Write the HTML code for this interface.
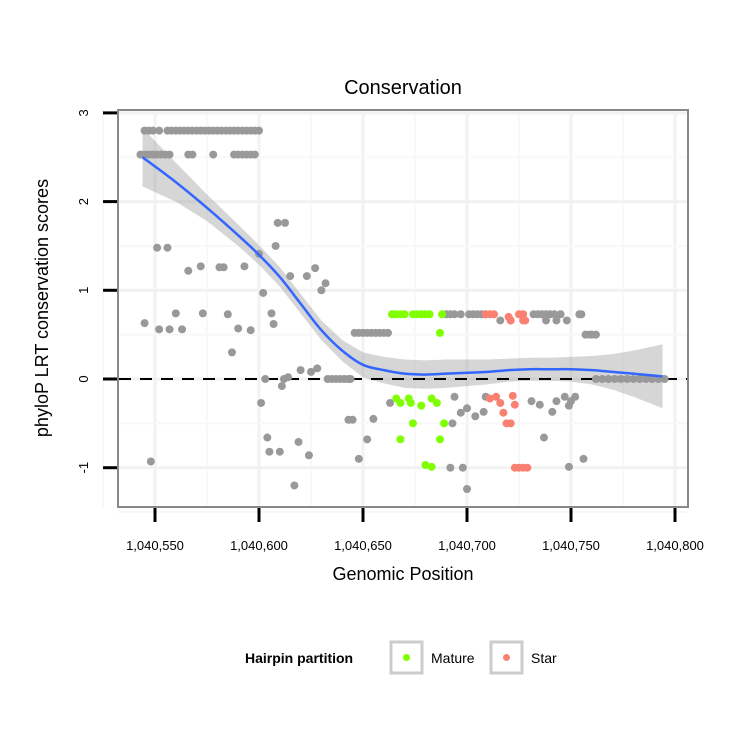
<!DOCTYPE html>
<html><head><meta charset="utf-8"><style>
body{margin:0;background:#fff}
svg{display:block;font-family:"Liberation Sans",sans-serif}
</style></head><body>
<svg id="chart" width="750" height="750" xmlns="http://www.w3.org/2000/svg">
<rect width="750" height="750" fill="#fff"/>
<text x="403" y="94" font-size="20" text-anchor="middle">Conservation</text>
<g id="grid"></g>
<g id="band"></g>
<line x1="119" x2="687" y1="379" y2="379" stroke="#000" stroke-width="2" stroke-dasharray="12,9"/>
<g id="points"></g>
<g id="smooth"></g>
<rect x="118" y="110" width="570" height="397" fill="none" stroke="#888" stroke-width="2"/>
<g id="axes"></g>
<text x="403" y="580" font-size="18" text-anchor="middle">Genomic Position</text>
<text transform="translate(48,308) rotate(-90)" font-size="18" text-anchor="middle">phyloP LRT conservation scores</text>
<g>
<text x="245" y="663" font-size="14" font-weight="bold">Hairpin partition</text>
<g>
<rect x="391" y="642" width="31" height="31" fill="#fff" stroke="#ccc" stroke-width="3"/>
<circle cx="406.5" cy="657.5" r="3.5" fill="#7fff00"/>
<text x="431" y="663" font-size="14">Mature</text></g>
<g>
<rect x="491" y="642" width="31" height="31" fill="#fff" stroke="#ccc" stroke-width="3"/>
<circle cx="506.5" cy="657.5" r="3.5" fill="#fa8072"/>
<text x="531" y="663" font-size="14">Star</text></g>
</g>
</svg>
<script>
const xTicks=[1040550,1040600,1040650,1040700,1040750,1040800];
const xTickLabels=["1,040,550","1,040,600","1,040,650","1,040,700","1,040,750","1,040,800"];
const yTicks=[-1,0,1,2,3];
const yTickLabels=["-1","0","1","2","3"];
const B=1040000;
const grayX=[545,547,549,552,556,558,560,562,564,566,568,570,572,574,576,578,580,582,584,586,588,590,592,594,596,598,600,
543,545,547,549,551,553,555,557,566,568,578,588,590,592,594,596,598,
545,551,556,566,572,560,573,552,557,563,585,581,583,593,600,609,612.5,608,602,606,607,590,596,587,615,623,627,632,630,548,603,601,604,605,610,619,624,617,611,612,614,620,628,625,
633,635,637,639,641,643,644,646,648,650,652,654,656,658,660,662,664,690,692,694,697,701,703,705,707,709,732,734,736,738,740,742,745,754,755,716,738,743,748,757,759,760,762,
762,765,768,771,774,777,780,783,786,789,792,795,
663,694,697,700,704,708,709,731,735,741,743,747,749,750,752,737,749,756,643,645,655,652,648,693,692,698,700];
const grayY=[2.8,2.8,2.8,2.8,2.8,2.8,2.8,2.8,2.8,2.8,2.8,2.8,2.8,2.8,2.8,2.8,2.8,2.8,2.8,2.8,2.8,2.8,2.8,2.8,2.8,2.8,2.8,
2.53,2.53,2.53,2.53,2.53,2.53,2.53,2.53,2.53,2.53,2.53,2.53,2.53,2.53,2.53,2.53,2.53,
0.63,1.48,1.48,1.22,1.27,0.74,0.74,0.56,0.56,0.56,0.73,1.26,1.26,1.27,1.41,1.76,1.76,1.5,0.97,0.74,0.62,0.57,0.55,0.3,1.16,1.16,1.25,1.08,1.0,-0.93,0.0,-0.27,-0.66,-0.82,-0.82,-0.71,-0.86,-1.2,-0.08,0.0,0.02,0.1,0.12,0.08,
0,0,0,0,0,0,0,0.52,0.52,0.52,0.52,0.52,0.52,0.52,0.52,0.52,0.73,0.73,0.73,0.73,0.73,0.73,0.73,0.73,0.73,0.73,0.73,0.73,0.73,0.73,0.73,0.73,0.73,0.73,0.73,0.66,0.66,0.66,0.66,0.5,0.5,0.5,0.5,
0,0,0,0,0,0,0,0,0,0,0,0,
-0.27,-0.2,-0.38,-0.33,-0.42,-0.37,-0.2,-0.25,-0.29,-0.37,-0.25,-0.2,-0.3,-0.25,-0.2,-0.66,-0.99,-0.9,-0.46,-0.46,-0.45,-0.68,-0.9,-0.5,-1.0,-1.0,-1.24];
const matureX=[664,666,668,670,674,676,678,680,682,688,687,666,672,683,685.5,668,673,678,674,689,668,687,680,683];
const matureY=[0.73,0.73,0.73,0.73,0.73,0.73,0.73,0.73,0.73,0.73,0.52,-0.22,-0.22,-0.22,-0.27,-0.27,-0.27,-0.3,-0.5,-0.5,-0.68,-0.68,-0.97,-0.99];
const starX=[709,711,713,720,721,725,727,728,721,727,711,714,716,717.5,722,723,719,721,723,725,727,729];
const starY=[0.73,0.73,0.73,0.7,0.66,0.73,0.73,0.66,0.66,0.66,-0.22,-0.2,-0.27,-0.38,-0.19,-0.29,-0.5,-0.5,-1.0,-1.0,-1.0,-1.0];
const smoothX=[544,560,575,590,600,610,620,630,640,650,660,670,680,690,700,710,720,730,740,750,760,770,780,794];
const smoothY=[2.5,2.22,1.93,1.62,1.4,1.15,0.85,0.55,0.32,0.16,0.1,0.06,0.05,0.06,0.07,0.08,0.1,0.11,0.11,0.11,0.1,0.08,0.06,0.03];
const smoothSE=[0.33,0.22,0.15,0.12,0.11,0.11,0.11,0.11,0.12,0.14,0.15,0.16,0.16,0.16,0.15,0.14,0.13,0.13,0.13,0.14,0.16,0.2,0.26,0.36];

const NS='http://www.w3.org/2000/svg';
const sx=v=>155+(v-1040550)*2.08;
const sy=v=>379-v*88.7;
function mk(tag,attrs,parent){const e=document.createElementNS(NS,tag);for(const k in attrs)e.setAttribute(k,attrs[k]);parent.appendChild(e);return e;}
function spline(p){let d='M'+p[0][0]+','+p[0][1];for(let i=0;i<p.length-1;i++){const p0=p[i-1]||p[i],p1=p[i],p2=p[i+1],p3=p[i+2]||p2;
 d+=' C'+(p1[0]+(p2[0]-p0[0])/6)+','+(p1[1]+(p2[1]-p0[1])/6)+' '+(p2[0]-(p3[0]-p1[0])/6)+','+(p2[1]-(p3[1]-p1[1])/6)+' '+p2[0]+','+p2[1];}return d;}
const grid=document.getElementById('grid');
for(let i=0;i<xTicks.length;i++){
  let l=mk('line',{x1:sx(xTicks[i]),x2:sx(xTicks[i]),y1:110,y2:507,stroke:'#f2f2f2','stroke-width':3},grid);
  
  
  let m=mk('line',{x1:sx(xTicks[i]-25),x2:sx(xTicks[i]-25),y1:110,y2:507,stroke:'#f8f8f8','stroke-width':2},grid);
  
  
}
for(let i=0;i<yTicks.length;i++){
  let l=mk('line',{x1:118,x2:688,y1:sy(yTicks[i]),y2:sy(yTicks[i]),stroke:'#f2f2f2','stroke-width':3},grid);
  
  
  let m=mk('line',{x1:118,x2:688,y1:sy(yTicks[i]-0.5),y2:sy(yTicks[i]-0.5),stroke:'#f8f8f8','stroke-width':2},grid);
  
  
}
const axes=document.getElementById('axes');
for(let i=0;i<xTicks.length;i++){
  let t=mk('line',{x1:sx(xTicks[i]),x2:sx(xTicks[i]),y1:508,y2:522,stroke:'#000','stroke-width':3},axes);
  
  
  let lb=mk('text',{x:sx(xTicks[i]),y:550,'font-size':13,'text-anchor':'middle'},axes);
  lb.textContent=xTickLabels[i];
  
  
}
for(let i=0;i<yTicks.length;i++){
  let t=mk('line',{x1:103,x2:117,y1:sy(yTicks[i]),y2:sy(yTicks[i]),stroke:'#000','stroke-width':3},axes);
  
  
  let lb=mk('text',{transform:`translate(88,${sy(yTicks[i])}) rotate(-90)`,'font-size':13,'text-anchor':'middle'},axes);
  lb.textContent=yTickLabels[i];
  
  
}
const band=document.getElementById('band');
let up=smoothX.map((x,i)=>sx(B+x)+','+sy(smoothY[i]+smoothSE[i]));
let dn=smoothX.map((x,i)=>sx(B+x)+','+sy(smoothY[i]-smoothSE[i])).reverse();
let poly=mk('polygon',{points:up.concat(dn).join(' '),fill:'#999','fill-opacity':0.4},band);


const pts=document.getElementById('points');
function drawPts(xs,ys,col,name){for(let i=0;i<xs.length;i++){
  let c=mk('circle',{cx:sx(B+xs[i]),cy:sy(ys[i]),r:4,fill:col},pts);
  
  
}}
drawPts(grayX,grayY,'#999','point-other');
drawPts(matureX,matureY,'#7fff00','point-mature');
drawPts(starX,starY,'#fa8072','point-star');
const sm=document.getElementById('smooth');
let pl=mk('path',{d:spline(smoothX.map((x,i)=>[sx(B+x),sy(smoothY[i])])),fill:'none',stroke:'#3366ff','stroke-width':2.5,'stroke-linejoin':'round'},sm);


</script>
</body></html>
